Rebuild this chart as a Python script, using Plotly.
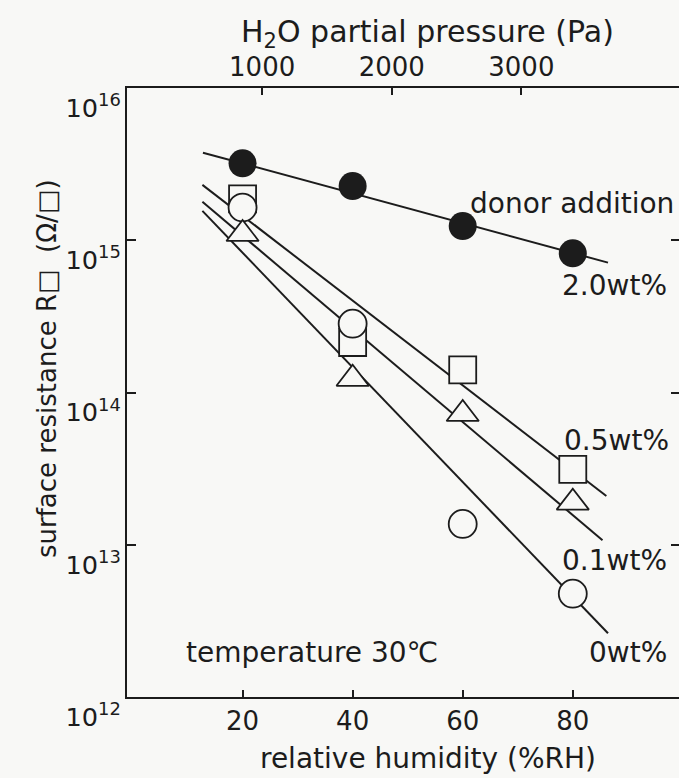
import plotly.graph_objects as go

# ---------------- data ----------------
rh = [20, 40, 60, 80]                                   # relative humidity (%RH)
r_2_0wt = [3.20e15, 2.27e15, 1.24e15, 8.2e14]           # donor 2.0 wt% (filled circles)
r_0_5wt = [1.87e15, 2.13e14, 1.41e14, 3.13e13]          # donor 0.5 wt% (squares)
r_0_1wt = [1.10e15, 1.23e14, 7.23e13, 1.89e13]          # donor 0.1 wt% (triangles)
r_0wt = [1.64e15, 2.83e14, 1.37e13, 4.77e12]            # donor 0 wt% (open circles)

# straight fit lines drawn in the figure (end points)
fit_rh_2_0 = [12.8, 86.4]
fit_r_2_0 = [3.76e15, 7.13e14]
fit_rh_0_5 = [12.7, 86.1]
fit_r_0_5 = [2.31e15, 2.09e13]
fit_rh_0_1 = [12.7, 85.4]
fit_r_0_1 = [1.79e15, 1.07e13]
fit_rh_0 = [12.7, 86.4]
fit_r_0 = [1.56e15, 2.62e12]

rh_ticks = [20, 40, 60, 80]
pa_ticks = [1000, 2000, 3000]
SAT_PRESSURE_PA = 4246          # saturated vapour pressure of water at 30 degC
RH_RANGE = [-1.0, 99.3]
LOG_R_RANGE = [12, 16]

# ---------------- style ----------------
FONT = "DejaVu Sans"
INK = "#1c1c1c"
BG = "#f8f8f6"
W, H = 679, 778
ML, MT, MB = 127, 88, 81
PW, PH = W - ML, H - MT - MB


def px_x(px):
    return (px - ML) / PW


def px_y(py):
    return (H - MB - py) / PH


fig = go.Figure()

line_style = dict(color=INK, width=2)
for fx, fr in [(fit_rh_2_0, fit_r_2_0), (fit_rh_0_5, fit_r_0_5),
               (fit_rh_0_1, fit_r_0_1), (fit_rh_0, fit_r_0)]:
    fig.add_trace(go.Scatter(x=fx, y=fr, mode="lines", line=line_style,
                             showlegend=False, hoverinfo="skip"))

open_line = dict(color=INK, width=1.8)
fig.add_trace(go.Scatter(x=rh, y=r_0_5wt, mode="markers", showlegend=False,
                         marker=dict(symbol="square", size=27, color=BG, line=open_line)))
fig.add_trace(go.Scatter(x=rh, y=r_0wt, mode="markers", showlegend=False,
                         marker=dict(symbol="circle", size=28, color=BG, line=open_line)))
fig.add_trace(go.Scatter(x=rh, y=r_0_1wt, mode="markers", showlegend=False,
                         marker=dict(symbol="triangle-up", size=28, color=BG, line=open_line)))
fig.add_trace(go.Scatter(x=rh, y=r_2_0wt, mode="markers", showlegend=False,
                         marker=dict(symbol="circle", size=28, color=INK, line=dict(width=0))))

# invisible trace so the secondary axes (top Pa axis, right tick axis) are drawn
pa_range = [v * SAT_PRESSURE_PA / 100 for v in RH_RANGE]
fig.add_trace(go.Scatter(x=pa_range, y=[10 ** LOG_R_RANGE[0], 10 ** LOG_R_RANGE[1]],
                         xaxis="x2", yaxis="y2", mode="markers",
                         marker=dict(opacity=0), showlegend=False, hoverinfo="skip"))

axis_common = dict(showgrid=False, zeroline=False, showline=True, linecolor=INK,
                   linewidth=2, ticks="inside", tickcolor=INK, tickwidth=1.5)

fig.update_layout(
    width=W, height=H,
    margin=dict(l=ML, r=0, t=MT, b=MB, pad=0),
    paper_bgcolor=BG, plot_bgcolor=BG,
    font=dict(family=FONT, color=INK, size=25),
    xaxis=dict(**axis_common, range=RH_RANGE, tickmode="array", tickvals=rh_ticks,
               ticklen=7, tickfont=dict(family=FONT, size=26, color=INK)),
    xaxis2=dict(**axis_common, overlaying="x", side="top", anchor="y", range=pa_range,
                tickmode="array", tickvals=pa_ticks, ticklen=7,
                tickfont=dict(family=FONT, size=26, color=INK)),
    yaxis=dict(**axis_common, type="log", range=LOG_R_RANGE, tickmode="linear",
               tick0=0, dtick=1, exponentformat="power", showexponent="all",
               ticklen=9, tickfont=dict(family=FONT, size=20.5, color=INK),
               ticklabelshift=20),
    yaxis2=dict(showgrid=False, zeroline=False, showline=False, overlaying="y",
                side="right", anchor="x", type="log", range=LOG_R_RANGE,
                tickmode="linear", tick0=0, dtick=1, ticks="inside", ticklen=8,
                tickcolor=INK, tickwidth=1.5, showticklabels=False),
)

ann = []


def add_text(text, px, py, xanchor="center", size=28, angle=0):
    ann.append(dict(text=text, x=px_x(px), y=px_y(py), xref="paper", yref="paper",
                    xanchor=xanchor, yanchor="middle", showarrow=False,
                    textangle=angle, font=dict(family=FONT, size=size, color=INK)))


add_text("donor addition", 676, 203, xanchor="right")
add_text("2.0wt%", 669, 285, xanchor="right")
add_text("0.5wt%", 671, 440, xanchor="right")
add_text("0.1wt%", 669, 560, xanchor="right")
add_text("0wt%", 669, 652, xanchor="right")
add_text("temperature 30℃", 184, 652, xanchor="left")
add_text("relative humidity (%RH)", 428, 758)
add_text("H<sub>2</sub>O partial pressure (Pa)", 427, 33, size=30)
add_text("surface resistance R□  (Ω/□)", 47, 369, size=26, angle=-90)

fig.update_layout(annotations=ann)

fig.write_html("out.html")
